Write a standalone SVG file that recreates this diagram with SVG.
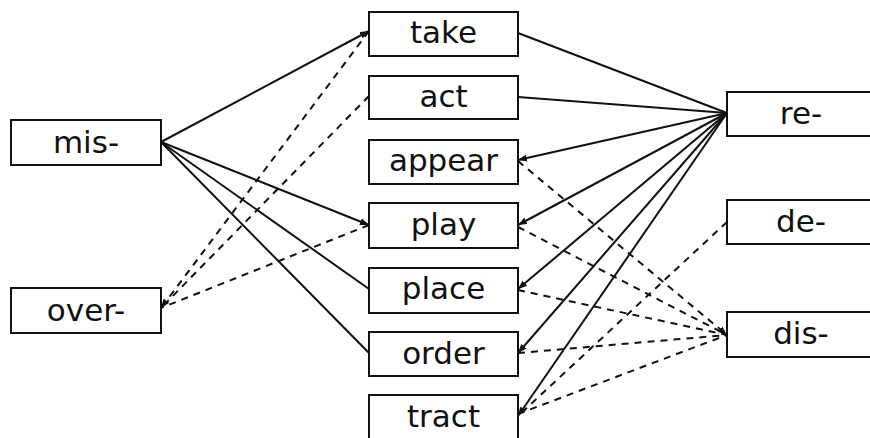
<svg xmlns="http://www.w3.org/2000/svg" width="870" height="438" viewBox="0 0 870 438">
<style>
.box{fill:#fff;stroke:#111;stroke-width:2}
.lbl{font-family:"DejaVu Sans",sans-serif;font-size:31px;fill:#111;text-anchor:middle}
.s{stroke:#111;stroke-width:2;fill:none}
.d{stroke:#111;stroke-width:2;fill:none;stroke-dasharray:7 6}
</style>
<defs>
<marker id="ah" markerWidth="10" markerHeight="8" refX="9" refY="4" orient="auto" markerUnits="userSpaceOnUse">
<path d="M0,0.5 L9,4 L0,7.5 z" fill="#111"/>
</marker>
</defs>
<rect width="870" height="438" fill="#fff"/>
<g id="connectors">
<line class="s" x1="161" y1="142" x2="369" y2="31" marker-end="url(#ah)"/>
<line class="s" x1="161" y1="142" x2="369" y2="225" marker-end="url(#ah)"/>
<line class="s" x1="161" y1="142" x2="369" y2="289"/>
<line class="s" x1="161" y1="142" x2="369" y2="353"/>
<line class="d" x1="369" y1="31" x2="161" y2="308" marker-end="url(#ah)"/>
<line class="d" x1="369" y1="96" x2="161" y2="308"/>
<line class="d" x1="369" y1="225" x2="161" y2="308"/>
<line class="s" x1="727" y1="113" x2="518" y2="33"/>
<line class="s" x1="727" y1="113" x2="518" y2="97"/>
<line class="s" x1="727" y1="113" x2="518" y2="160" marker-end="url(#ah)"/>
<line class="s" x1="727" y1="113" x2="518" y2="225" marker-end="url(#ah)"/>
<line class="s" x1="727" y1="113" x2="518" y2="289" marker-end="url(#ah)"/>
<line class="s" x1="727" y1="113" x2="518" y2="353" marker-end="url(#ah)"/>
<line class="s" x1="727" y1="113" x2="518" y2="416" marker-end="url(#ah)"/>
<line class="d" x1="518" y1="161" x2="727" y2="335" marker-end="url(#ah)"/>
<line class="d" x1="518" y1="227" x2="727" y2="335"/>
<line class="d" x1="518" y1="290" x2="727" y2="335"/>
<line class="d" x1="518" y1="353" x2="727" y2="335"/>
<line class="d" x1="518" y1="414" x2="727" y2="335"/>
<line class="d" x1="727" y1="222" x2="518" y2="416"/>
</g>
<g id="mis"><rect class="box" x="11" y="120" width="150" height="45"/><text class="lbl" x="86" y="153">mis-</text></g>
<g id="over"><rect class="box" x="11" y="288" width="150" height="45"/><text class="lbl" x="86" y="321">over-</text></g>
<g id="take"><rect class="box" x="369" y="12" width="149" height="44"/><text class="lbl" x="443.5" y="43">take</text></g>
<g id="act"><rect class="box" x="369" y="76" width="149" height="43"/><text class="lbl" x="443.5" y="107">act</text></g>
<g id="appear"><rect class="box" x="369" y="140" width="149" height="44"/><text class="lbl" x="443.5" y="171">appear</text></g>
<g id="play"><rect class="box" x="369" y="203" width="149" height="45"/><text class="lbl" x="443.5" y="235">play</text></g>
<g id="place"><rect class="box" x="369" y="268" width="149" height="45"/><text class="lbl" x="443.5" y="299">place</text></g>
<g id="order"><rect class="box" x="369" y="332" width="149" height="44"/><text class="lbl" x="443.5" y="364">order</text></g>
<g id="tract"><rect class="box" x="369" y="395" width="149" height="45"/><text class="lbl" x="443.5" y="427">tract</text></g>
<g id="re"><rect class="box" x="727" y="92" width="149" height="44"/><text class="lbl" x="801" y="124">re-</text></g>
<g id="de"><rect class="box" x="727" y="200" width="149" height="44"/><text class="lbl" x="801" y="232">de-</text></g>
<g id="dis"><rect class="box" x="727" y="312" width="149" height="45"/><text class="lbl" x="801" y="344">dis-</text></g>
</svg>
